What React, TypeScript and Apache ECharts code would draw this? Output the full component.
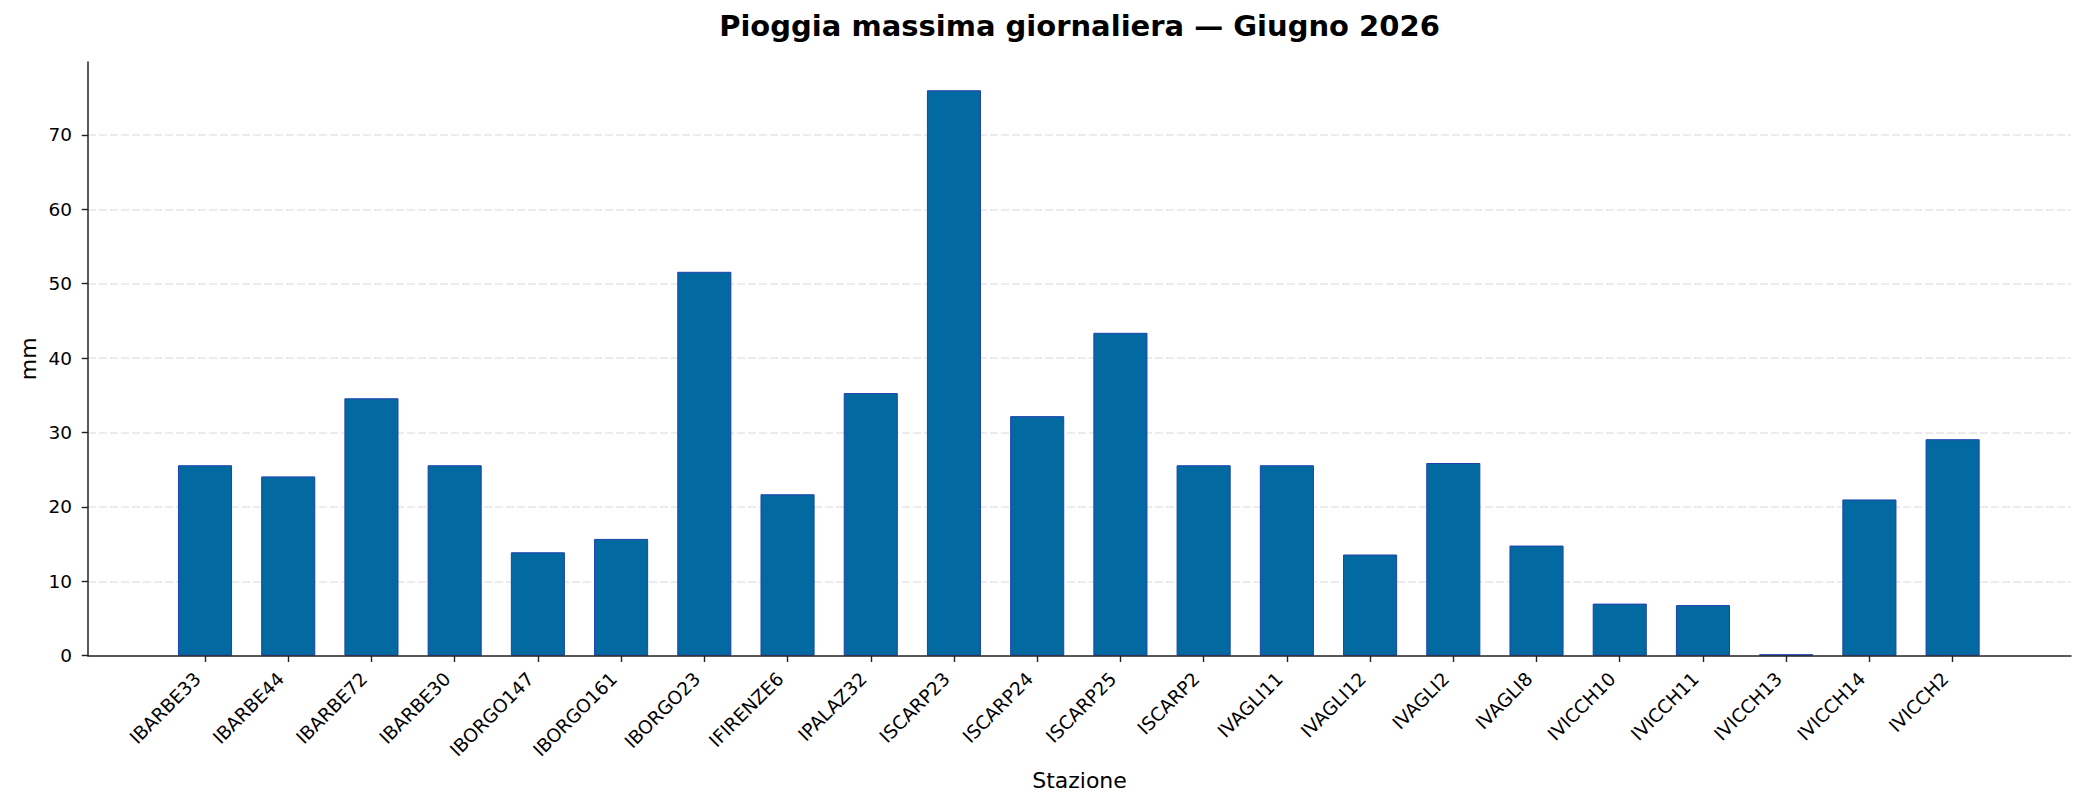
import React, { useEffect, useRef } from "react";
import * as echarts from "echarts";

// Maximum daily rainfall per station (mm), June 2026
const stations: string[] = [
  "IBARBE33", "IBARBE44", "IBARBE72", "IBARBE30", "IBORGO147", "IBORGO161",
  "IBORGO23", "IFIRENZE6", "IPALAZ32", "ISCARP23", "ISCARP24", "ISCARP25",
  "ISCARP2", "IVAGLI11", "IVAGLI12", "IVAGLI2", "IVAGLI8", "IVICCH10",
  "IVICCH11", "IVICCH13", "IVICCH14", "IVICCH2",
];
const maxRain: number[] = [
  25.6, 24.1, 34.6, 25.6, 13.9, 15.7, 51.6, 21.7, 35.3, 76.0, 32.2, 43.4,
  25.6, 25.6, 13.6, 25.9, 14.8, 7.0, 6.8, 0.2, 21.0, 29.1,
];
const yTicks: number[] = [0, 10, 20, 30, 40, 50, 60, 70];

const TITLE = "Pioggia massima giornaliera — Giugno 2026";
const X_NAME = "Stazione";
const Y_NAME = "mm";

const FONT = "DejaVu Sans";
const INK = "#000000";
const SPINE = "#222222";

export default function App() {
  const ref = useRef<HTMLDivElement | null>(null);

  useEffect(() => {
    document.body.style.margin = "0";
    if (!ref.current) return;
    const chart = echarts.init(ref.current, undefined, { renderer: "svg" });

    const W = 2085;
    const H = 809;
    // plot frame (spines)
    const frameLeft = 88;
    const frameRight = 2071;
    const frameTop = 62;
    const frameBottom = 655.7;
    // category area: bars centered 83.22px apart
    const step = 83.22;
    const firstCenter = 205;
    const catLeft = firstCenter - step / 2;
    const catRight = catLeft + step * stations.length;
    const labelShift = 7.4;
    const yMax = 79.8;

    const option: echarts.EChartsOption = {
      animation: false,
      backgroundColor: "#ffffff",
      textStyle: { fontFamily: FONT },
      grid: [
        { left: frameLeft, right: W - frameRight, top: frameTop, bottom: H - frameBottom },
        { left: catLeft, right: W - catRight, top: frameTop, bottom: H - frameBottom },
        { left: catLeft - labelShift, right: W - catRight + labelShift, top: frameTop, bottom: H - frameBottom },
      ],
      xAxis: [
        {
          type: "value",
          gridIndex: 0,
          min: 0,
          max: 1,
          z: 5,
          axisLine: { show: true, lineStyle: { color: SPINE, width: 1.5 } },
          axisTick: { show: false },
          axisLabel: { show: false },
          splitLine: { show: false },
        },
        {
          type: "category",
          gridIndex: 1,
          data: stations,
          boundaryGap: true,
          axisLine: { show: false },
          axisTick: {
            show: true,
            alignWithLabel: true,
            interval: 0,
            length: 6.3,
            lineStyle: { color: SPINE, width: 1.4 },
          },
          axisLabel: { show: false },
          splitLine: { show: false },
        },
        {
          type: "category",
          gridIndex: 2,
          data: stations,
          boundaryGap: true,
          axisLine: { show: false },
          axisTick: { show: false },
          axisLabel: {
            show: true,
            interval: 0,
            rotate: 45,
            margin: 20,
            fontSize: 18.5,
            fontFamily: FONT,
            color: INK,
          },
          splitLine: { show: false },
        },
      ],
      yAxis: [
        {
          type: "value",
          gridIndex: 0,
          min: 0,
          max: yMax,
          interval: 10,
          axisLine: { show: true, lineStyle: { color: SPINE, width: 1.5 } },
          axisTick: {
            show: true,
            length: 6.3,
            lineStyle: { color: SPINE, width: 1.4 },
            customValues: yTicks,
          } as any,
          axisLabel: {
            show: true,
            margin: 16,
            fontSize: 18.5,
            fontFamily: FONT,
            color: INK,
            customValues: yTicks,
          } as any,
          splitLine: {
            show: true,
            showMinLine: false,
            lineStyle: { color: "#e6e6e6", width: 1.5, type: [8, 3] },
          } as any,
        },
        {
          type: "value",
          gridIndex: 1,
          min: 0,
          max: yMax,
          show: false,
          splitLine: { show: false },
        },
        {
          type: "value",
          gridIndex: 2,
          min: 0,
          max: yMax,
          show: false,
          splitLine: { show: false },
        },
      ],
      series: [
        {
          type: "bar",
          xAxisIndex: 1,
          yAxisIndex: 1,
          data: maxRain,
          barWidth: "65%",
          itemStyle: {
            color: "#0369a1",
            borderColor: "#1e40af",
            borderWidth: 1,
          },
        },
      ],
      graphic: [
        {
          type: "text",
          x: (frameLeft + frameRight) / 2,
          y: 26,
          style: {
            text: TITLE,
            fontFamily: FONT,
            fontSize: 29,
            fontWeight: "bold",
            fill: "#000000",
            align: "center",
            verticalAlign: "middle",
          },
        },
        {
          type: "text",
          x: (frameLeft + frameRight) / 2,
          y: 780,
          style: {
            text: X_NAME,
            fontFamily: FONT,
            fontSize: 22,
            fill: INK,
            align: "center",
            verticalAlign: "middle",
          },
        },
        {
          type: "text",
          x: 28,
          y: (frameTop + frameBottom) / 2,
          rotation: Math.PI / 2,
          style: {
            text: Y_NAME,
            fontFamily: FONT,
            fontSize: 22,
            fill: INK,
            align: "center",
            verticalAlign: "middle",
          },
        },
      ],
    };

    chart.setOption(option);
    return () => {
      chart.dispose();
    };
  }, []);

  return <div ref={ref} style={{ width: 2085, height: 809 }} />;
}
